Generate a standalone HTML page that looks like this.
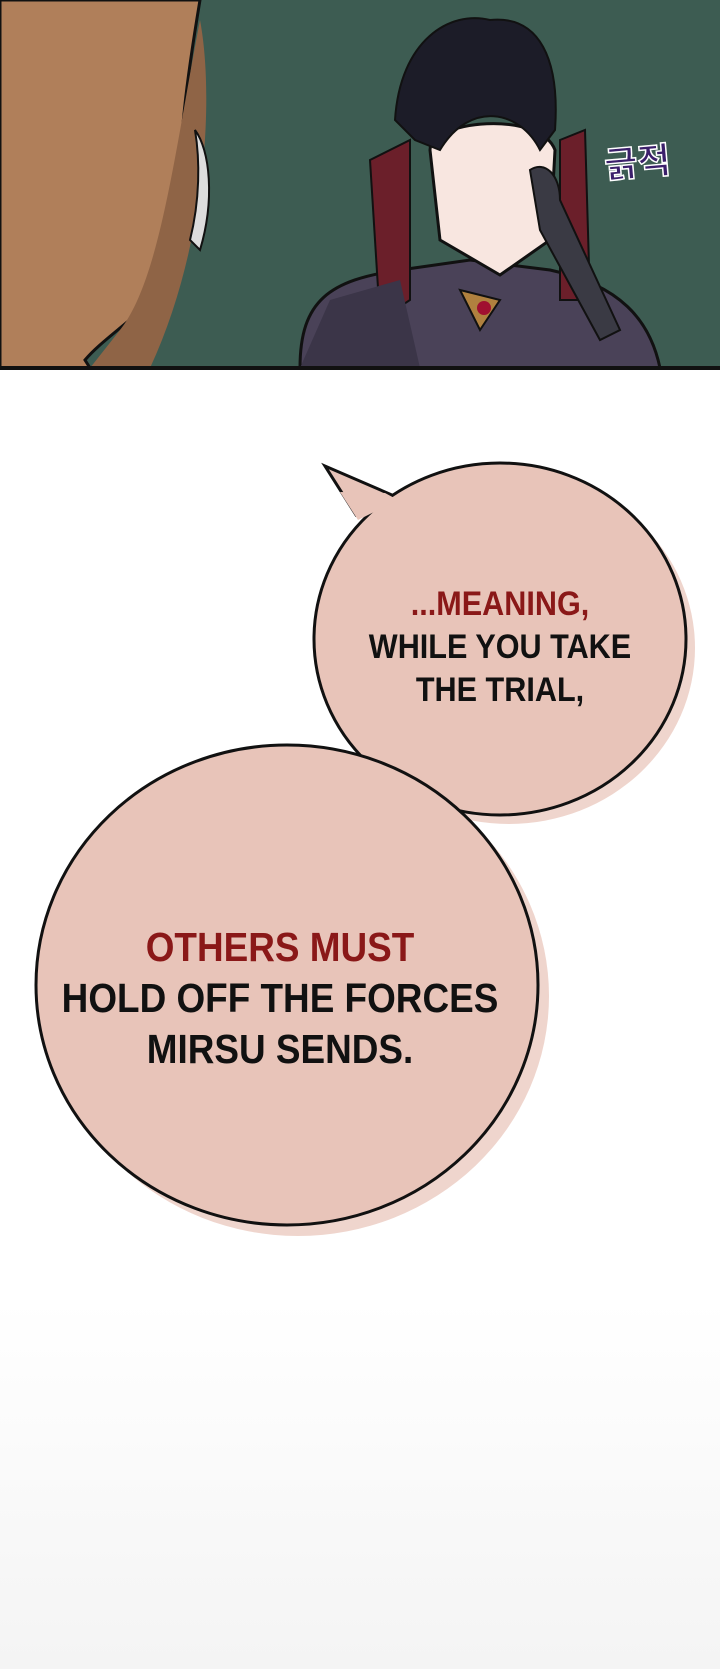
<!DOCTYPE html>
<html><head><meta charset="utf-8"><style>
body{margin:0;width:720px;height:1669px;background:#fff;overflow:hidden;position:relative;font-family:"Liberation Sans",sans-serif}
.t{position:absolute;font-weight:bold;text-align:center;white-space:nowrap;transform:scaleX(0.9);transform-origin:center}
</style></head><body>
<svg width="720" height="1669" style="position:absolute;left:0;top:0">
<defs><linearGradient id="fade" x1="0" y1="0" x2="0" y2="1"><stop offset="0" stop-color="#fff"/><stop offset="1" stop-color="#f4f4f4"/></linearGradient></defs>
<rect x="0" y="1300" width="720" height="369" fill="url(#fade)"/>
<rect x="0" y="0" width="720" height="368" fill="#3d5c52"/>
<path d="M0 0 H200 C190 60 175 150 180 250 C170 300 110 330 85 360 L90 368 H0Z" fill="#b07f5a" stroke="#111" stroke-width="3"/>
<path d="M200 20 C215 100 205 250 150 368 H90 L120 330 C160 280 175 150 200 20Z" fill="#8f6446"/>
<path d="M195 130 C210 150 215 200 200 250 L190 240 C200 200 200 160 195 130Z" fill="#ddd" stroke="#111" stroke-width="2"/>
<path d="M300 368 C300 300 330 280 400 270 L470 260 L550 270 C620 285 650 320 660 368Z" fill="#4a4258" stroke="#111" stroke-width="3"/>
<path d="M370 160 L410 140 L410 300 L380 320Z" fill="#6b1f2a" stroke="#111" stroke-width="2"/>
<path d="M560 140 L585 130 L590 300 L560 300Z" fill="#6b1f2a" stroke="#111" stroke-width="2"/>
<path d="M430 150 C430 120 540 110 555 150 L550 240 L500 275 L440 240Z" fill="#f8e6e0" stroke="#111" stroke-width="3"/>
<path d="M395 120 C400 40 450 10 490 20 C540 15 560 60 555 130 L540 150 C520 110 470 100 440 150 L415 140Z" fill="#1c1c28" stroke="#111" stroke-width="2"/>
<path d="M300 368 L330 300 L400 280 L420 368Z" fill="#3b3548"/>
<path d="M460 290 L500 300 L480 330Z" fill="#b0813f" stroke="#111" stroke-width="2"/>
<circle cx="484" cy="308" r="7" fill="#a01030"/>
<path d="M530 170 C545 160 560 175 560 200 L620 330 L600 340 L540 230Z" fill="#3a3a44" stroke="#111" stroke-width="2"/>
<text x="605" y="175" font-size="36" fill="#3b1f6b" font-weight="bold" font-family="Noto Sans CJK KR,sans-serif" stroke="#fff" stroke-width="1.5" transform="rotate(-5 640 170)">긁적</text>
<rect x="0" y="366" width="720" height="4" fill="#111"/>
<ellipse cx="509" cy="648" rx="186" ry="176" fill="#efd5cd"/>
<ellipse cx="298" cy="996" rx="251" ry="240" fill="#efd5cd"/>
<path d="M356 515 L325 466 L392 495Z" fill="#e8c4b9" stroke="#111" stroke-width="3"/>
<ellipse cx="500" cy="639" rx="186" ry="176" fill="#e8c4b9" stroke="#111" stroke-width="3"/>
<path d="M358 520 L340 492 L385 493 L398 500Z" fill="#e8c4b9"/>
<ellipse cx="287" cy="985" rx="251" ry="240" fill="#e8c4b9" stroke="#111" stroke-width="3"/>
</svg>
<div class="t" style="left:300px;top:583px;width:400px;font-size:34px;line-height:43px;color:#8a1818">...MEANING,</div>
<div class="t" style="left:300px;top:626px;width:400px;font-size:34px;line-height:43px;color:#111">WHILE YOU TAKE<br>THE TRIAL,</div>
<div class="t" style="left:20px;top:922px;width:520px;font-size:41px;line-height:51px;color:#8a1818">OTHERS MUST</div>
<div class="t" style="left:20px;top:973px;width:520px;font-size:41px;line-height:51px;color:#111">HOLD OFF THE FORCES<br>MIRSU SENDS.</div>
</body></html>
